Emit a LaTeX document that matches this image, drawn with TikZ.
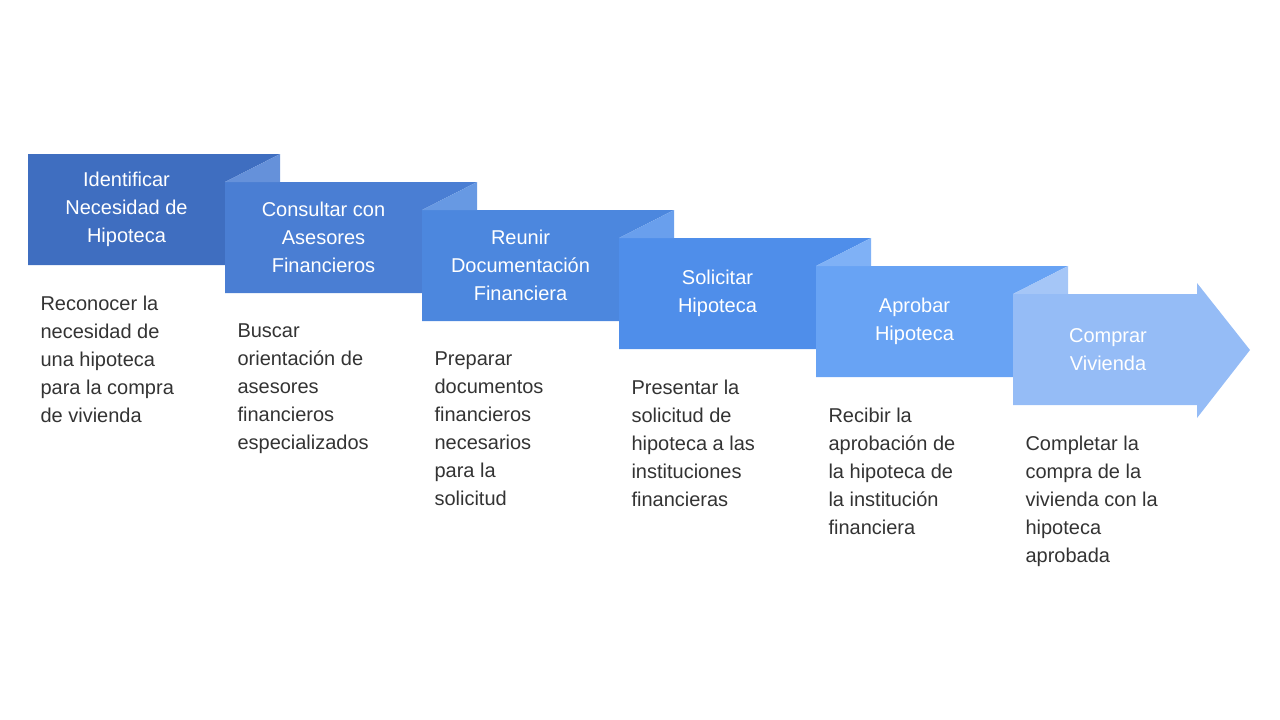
\documentclass[tikz,border=0pt]{standalone}
\usepackage{fontspec}
\setmainfont{Liberation Sans}
\begin{document}
\begin{tikzpicture}[x=1pt,y=-1pt,
  title/.style={text=white,align=center,font=\fontsize{20}{28}\selectfont},
  desc/.style={text=black!80,align=left,anchor=north west,font=\fontsize{20}{28}\selectfont}]
\useasboundingbox (0,0) rectangle (1280,720);
\definecolor{c1}{HTML}{3F6EC0}
\definecolor{c2}{HTML}{4A7ED3}
\definecolor{c3}{HTML}{4C87DE}
\definecolor{c4}{HTML}{4F8EEA}
\definecolor{c5}{HTML}{68A3F4}
\definecolor{c6}{HTML}{95BCF6}
% boxes
\foreach \i/\c in {0/c1,1/c2,2/c3,3/c4,4/c5}{
  \pgfmathsetmacro\xo{28+197*\i}
  \pgfmathsetmacro\yo{154+28*\i}
  \fill[\c] (\xo,\yo) -- (\xo+252,\yo) -- (\xo+197,\yo+28) -- (\xo+197,\yo+111) -- (\xo,\yo+111) -- cycle;
}
\foreach \i/\c in {1/c2,2/c3,3/c4,4/c5,5/c6}{
  \pgfmathsetmacro\xo{28+197*\i}
  \pgfmathsetmacro\yo{154+28*\i}
  \fill[\c!85!white] (\xo,\yo) -- (\xo+55,\yo-28) -- (\xo+55,\yo) -- cycle;
}
\fill[c6] (1013,294) -- (1197,294) -- (1197,283) -- (1250,350) -- (1197,418) -- (1197,405) -- (1013,405) -- cycle;
% titles
\node[title] (t1) at (126.5,209.5) {Identificar\\Necesidad de\\Hipoteca};
\node[title] (t2) at (323.5,237.5) {Consultar con\\Asesores\\Financieros};
\node[title] (t3) at (520.5,265.5) {Reunir\\Documentación\\Financiera};
\node[title] (t4) at (717.5,293.5) {Solicitar\\Hipoteca};
\node[title] (t5) at (914.5,321.5) {Aprobar\\Hipoteca};
\node[title] (t6) at (1108,349.5) {Comprar\\Vivienda};
% descriptions
\node[desc] (d1) at (37,292) {Reconocer la\\necesidad de\\una hipoteca\\para la compra\\de vivienda};
\node[desc] (d2) at (234,320) {Buscar\\orientación de\\asesores\\financieros\\especializados};
\node[desc] (d3) at (431,348) {Preparar\\documentos\\financieros\\necesarios\\para la\\solicitud};
\node[desc] (d4) at (628,376) {Presentar la\\solicitud de\\hipoteca a las\\instituciones\\financieras};
\node[desc] (d5) at (825,404) {Recibir la\\aprobación de\\la hipoteca de\\la institución\\financiera};
\node[desc] (d6) at (1022,432) {Completar la\\compra de la\\vivienda con la\\hipoteca\\aprobada};
\end{tikzpicture}
\end{document}
